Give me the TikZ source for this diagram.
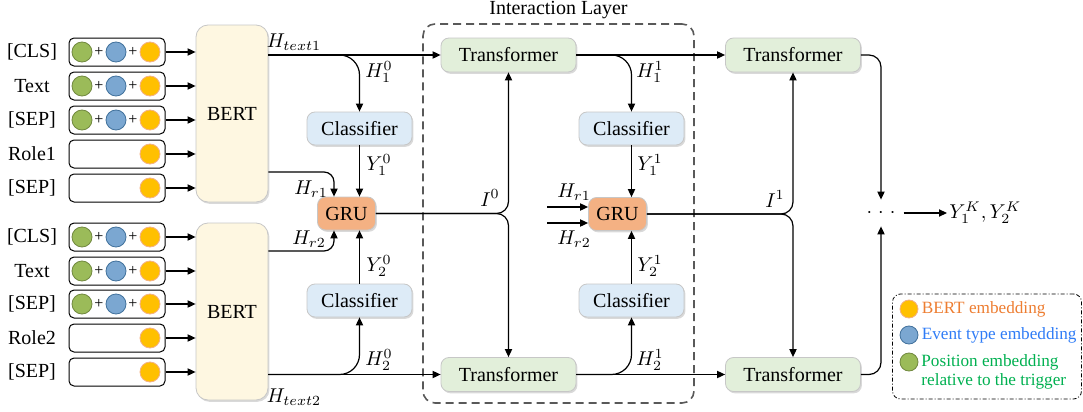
\documentclass[tikz,border=0pt]{standalone}
\usepackage{amsmath}
\usepackage{fontspec}
\setmainfont{Liberation Serif}
\usepackage{tikz}
\usetikzlibrary{arrows.meta,shadows,positioning}

\definecolor{bertfill}{HTML}{FEF7E1}
\definecolor{transfill}{HTML}{E2EFDA}
\definecolor{clsfill}{HTML}{DDEBF7}
\definecolor{grufill}{HTML}{F4B183}
\definecolor{posfill}{HTML}{9BBB59}
\definecolor{posdraw}{HTML}{71893F}
\definecolor{typfill}{HTML}{7BA7D1}
\definecolor{typdraw}{HTML}{41719C}
\definecolor{bdotfill}{HTML}{FFC000}
\definecolor{bdotdraw}{HTML}{F4B183}
\definecolor{bertcol}{HTML}{ED7D31}
\definecolor{typcol}{HTML}{2F7CF6}
\definecolor{poscol}{HTML}{00B050}

\tikzset{
  arr/.style={line width=0.6pt, -{Triangle[length=4pt,width=3.6pt]}},
  blk/.style={draw=black!22, line width=0.4pt, rounded corners=4pt, inner sep=0pt,
    drop shadow={shadow xshift=0.7pt, shadow yshift=-0.9pt, opacity=0.3}},
  bertbox/.style={blk, fill=bertfill, rounded corners=6pt, minimum width=36pt, minimum height=88.5pt},
  transbox/.style={blk, fill=transfill, minimum width=67.5pt, minimum height=17pt},
  clsbox/.style={blk, fill=clsfill, minimum width=52.5pt, minimum height=16.5pt},
  grubox/.style={blk, fill=grufill, minimum width=29pt, minimum height=16.5pt},
  embbox/.style={draw, line width=0.5pt, rounded corners=2.5pt, minimum width=48pt, minimum height=14pt},
  dot/.style={circle, inner sep=0pt, minimum size=10pt, line width=0.4pt},
  posdot/.style={dot, draw=posdraw, fill=posfill},
  typdot/.style={dot, draw=typdraw, fill=typfill},
  bertdot/.style={dot, draw=bdotdraw, fill=bdotfill},
  plus/.style={inner sep=0pt, font=\fontsize{8}{8}\selectfont},
  lbl/.style={inner sep=0.5pt},
  lgtext/.style={inner sep=1pt, font=\fontsize{8.6}{9.6}\selectfont}
}

\begin{document}
\begin{tikzpicture}[x=0.5pt, y=-0.5pt, font=\fontsize{10}{12}\selectfont]
  \useasboundingbox (0,0) rectangle (1083,412);

  % encoders
  \node[bertbox] (bert1) at (232,113.5) {BERT};
  \node[bertbox] (bert2) at (232,311.5) {BERT};

  % input rows
  \foreach \lab/\y/\full [count=\i] in {{[CLS]}/52/1, Text/86/1, {[SEP]}/120/1, Role1/154/0, {[SEP]}/188/0,
      {[CLS]}/237/1, Text/271/1, {[SEP]}/304/1, Role2/338/0, {[SEP]}/372/0}{
    \ifnum\i<6 \def\enc{bert1}\else\def\enc{bert2}\fi
    \node[lbl] (lab\i) at (32,\y) {\lab};
    \node[embbox] (emb\i) at (117,\y) {};
    \node[bertdot] (bd\i) at ([xshift=16.5pt]emb\i.center) {};
    \ifnum\full=1
      \node[posdot] (pd\i) at ([xshift=-17.5pt]emb\i.center) {};
      \node[typdot] (td\i) at ([xshift=-0.5pt]emb\i.center) {};
      \node[plus] (pa\i) at ([xshift=-9pt]emb\i.center) {+};
      \node[plus] (pb\i) at ([xshift=8pt]emb\i.center) {+};
    \fi
    \draw[arr] (emb\i.east) -- (emb\i.east -| \enc.west);
  }

  % interaction layer
  \node[draw=black!65, dash pattern=on 4pt off 2.5pt, line width=0.8pt, rounded corners=6pt,
    minimum width=135.5pt, minimum height=189.5pt] (inter) at (558.5,213.5) {};
  \node[lbl, above=1.5pt of inter.north] (intertitle) {Interaction Layer};

  % blocks
  \node[transbox] (tr1) at (508.5,55) {Transformer};
  \node[transbox] (tr2) at (508.5,374.5) {Transformer};
  \node[transbox] (tr3) at (793,55) {Transformer};
  \node[transbox] (tr4) at (793,374.5) {Transformer};
  \node[clsbox] (cls1) at (359.5,128.5) {Classifier};
  \node[clsbox] (cls2) at (359.5,300.5) {Classifier};
  \node[clsbox] (cls3) at (631.5,128.5) {Classifier};
  \node[clsbox] (cls4) at (631.5,300.5) {Classifier};
  \node[grubox] (gru1) at (346.5,213.5) {GRU};
  \node[grubox] (gru2) at (617.5,214) {GRU};

  % first stage
  \draw[arr] (bert1.east |- tr1.west) -- (tr1.west);
  \draw[arr, rounded corners=10pt] (bert1.east |- tr1.west) -| (cls1.north);
  \draw[arr] (cls1.south) -- (cls1.south |- gru1.north);
  \draw[arr, rounded corners=5pt] ([yshift=-29.25pt]bert1.east) -| ([xshift=-6.25pt]gru1.north);
  \draw[arr, rounded corners=5pt] ([yshift=30.25pt]bert2.east) -| ([xshift=-6.25pt]gru1.south);
  \draw[arr] (cls2.north) -- (cls2.north |- gru1.south);
  \draw[arr] (bert2.east |- tr2.west) -- (tr2.west);
  \draw[arr, rounded corners=10pt] (bert2.east |- tr2.west) -| (cls2.south);
  \draw[arr, rounded corners=6pt] (gru1.east) -| (tr1.south);
  \draw[arr, rounded corners=6pt] (gru1.east) -| (tr2.north);

  % second stage
  \draw[arr] (tr1.east) -- (tr3.west);
  \draw[arr, rounded corners=10pt] (tr1.east) -| (cls3.north);
  \draw[arr] (cls3.south) -- (cls3.south |- gru2.north);
  \draw[arr] (cls4.north) -- (cls4.north |- gru2.south);
  \draw[arr] (tr2.east) -- (tr4.west);
  \draw[arr, rounded corners=10pt] (tr2.east) -| (cls4.south);
  \coordinate (hr1) at ([xshift=-20.5pt, yshift=3.5pt]gru2.west);
  \coordinate (hr2) at ([xshift=-20.5pt, yshift=-4.5pt]gru2.west);
  \draw[arr] (hr1) -- (hr1 -| gru2.west);
  \draw[arr] (hr2) -- (hr2 -| gru2.west);
  \draw[arr, rounded corners=6pt] (gru2.east) -| (tr3.south);
  \draw[arr, rounded corners=6pt] (gru2.east) -| (tr4.north);

  % output
  \node[inner sep=0pt, minimum width=14pt, minimum height=13pt] (dots) at (881,213)
    {{$\cdot$}\hspace{3pt}{$\cdot$}\hspace{3pt}{$\cdot$}};
  \node[anchor=west, inner sep=1pt] (yk) at (947,213) {$Y_1^K, Y_2^K$};
  \draw[arr, rounded corners=6pt] (tr3.east) -| (dots.north);
  \draw[arr, rounded corners=6pt] (tr4.east) -| (dots.south);
  \draw[arr] ([xshift=4pt]dots.east) -- (yk.west);

  % labels
  \node[lbl] (lht1) at (294,42) {$H_{text1}$};
  \node[lbl] (lh10) at (379,72) {$H_1^0$};
  \node[lbl] (ly10) at (379,165) {$Y_1^0$};
  \node[lbl] (lhra) at (311,189) {$H_{r1}$};
  \node[lbl] (lhrb) at (309,239) {$H_{r2}$};
  \node[lbl] (ly20) at (379,266) {$Y_2^0$};
  \node[lbl] (lh20) at (379,360) {$H_2^0$};
  \node[lbl] (lht2) at (294,397) {$H_{text2}$};
  \node[lbl] (li0) at (490,198) {$I^0$};
  \node[lbl] (lh11) at (650,72) {$H_1^1$};
  \node[lbl] (ly11) at (650,165) {$Y_1^1$};
  \node[lbl] (lhrc) at (574,192) {$H_{r1}$};
  \node[lbl] (lhrd) at (574,239) {$H_{r2}$};
  \node[lbl] (ly21) at (650,266) {$Y_2^1$};
  \node[lbl] (lh21) at (650,360) {$H_2^1$};
  \node[lbl] (li1) at (775,199) {$I^1$};

  % legend
  \node[draw, dash pattern=on 2pt off 1pt on 0.5pt off 1pt, rounded corners=4pt, line width=0.4pt,
    minimum width=94.5pt, minimum height=52.5pt] (legend) at (987,346.5) {};
  \node[bertdot, minimum size=9pt] (lgo) at (909,309) {};
  \node[typdot, minimum size=9pt] (lgb) at (909,335) {};
  \node[posdot, minimum size=9pt] (lgg) at (909,362) {};
  \node[lgtext, text=bertcol, right=0.5pt of lgo] (lgt1) {BERT embedding};
  \node[lgtext, text=typcol, right=0.5pt of lgb] (lgt2) {Event type embedding};
  \node[lgtext, text=poscol, align=left, anchor=west] (lgt3) at (919,372)
    {Position embedding\\relative to the trigger};
\end{tikzpicture}
\end{document}
